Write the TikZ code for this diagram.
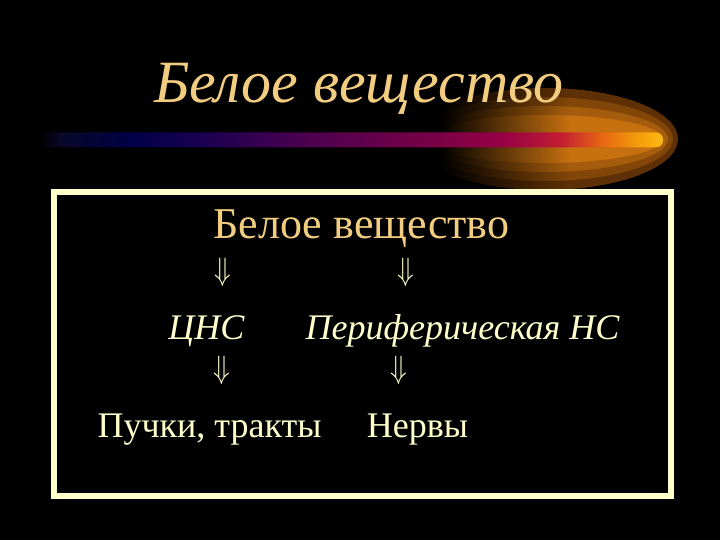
\documentclass[tikz,border=0pt]{standalone}
\usepackage{fontspec}
\setmainfont{Liberation Serif}
\definecolor{cream}{RGB}{255,255,204}
\definecolor{gold}{RGB}{242,205,128}
\definecolor{glowa}{RGB}{95,48,5}
\definecolor{glowb}{RGB}{130,70,8}
\definecolor{glowc}{RGB}{165,92,12}
\definecolor{glowd}{RGB}{198,112,16}
\definecolor{bara}{RGB}{8,8,40}
\definecolor{barb}{RGB}{0,0,70}
\definecolor{barc}{RGB}{25,0,80}
\definecolor{bard}{RGB}{70,0,80}
\definecolor{bare}{RGB}{120,0,70}
\definecolor{barf}{RGB}{150,0,70}
\definecolor{barg}{RGB}{195,30,50}
\definecolor{barh}{RGB}{230,100,20}
\definecolor{bari}{RGB}{245,160,10}
\definecolor{barj}{RGB}{250,185,20}
\pgfdeclarehorizontalshading{barshade}{100bp}{color(0bp)=(black); color(25bp)=(black);
  color(26.6bp)=(bara); color(32.2bp)=(barb); color(37.9bp)=(barc); color(45.1bp)=(bard);
  color(56.4bp)=(bare); color(62bp)=(barf); color(66.8bp)=(barg); color(70bp)=(barh);
  color(73.2bp)=(bari); color(75bp)=(barj); color(100bp)=(barj)}
\begin{document}
\begin{tikzpicture}[x=1pt,y=-1pt,
    txt/.style={font=\fontsize{36}{36}\selectfont, text=cream, inner sep=0pt, anchor=base},
    arr/.style={font=\Huge, text=cream, inner sep=0pt, xscale=1.1, yscale=1.3}]
  \fill[black] (0,0) rectangle (720,540);
  % glow behind the bar
  \foreach \rx/\ry/\c in {133/51/glowa, 128/42/glowb, 123/33/glowc, 118/24/glowd}{
    \begin{scope}
      \clip (545,139) ellipse [x radius=\rx pt, y radius=\ry pt];
      \shade[left color=black, right color=\c] (440,80) rectangle (570,200);
      \fill[\c] (570,80) rectangle (690,200);
    \end{scope}}
  \shade[shading=barshade, rounded corners=7pt] (40,132.5) rectangle (663,147.5);
  \draw[cream, line width=6pt] (54,192) rectangle (671,496);
  \node[txt, text=gold, font=\fontsize{60}{60}\selectfont\itshape] (title) at (359,103) {Белое вещество};
  \node[txt, text=gold, font=\fontsize{44}{44}\selectfont] (head) at (361.5,238) {Белое вещество};
  \node[txt, font=\fontsize{36}{36}\selectfont\itshape] (cns) at (206.5,339) {ЦНС};
  \node[txt, font=\fontsize{36}{36}\selectfont\itshape] (pns) at (462.5,339) {Периферическая НС};
  \node[txt] (tracts) at (209.5,437) {Пучки, тракты};
  \node[txt] (nerves) at (417.5,437) {Нервы};
  \node[arr] (arr1) at (223,272) {$\Downarrow$};
  \node[arr] (arr2) at (406,272) {$\Downarrow$};
  \node[arr] (arr3) at (222,370) {$\Downarrow$};
  \node[arr] (arr4) at (399,370) {$\Downarrow$};
\end{tikzpicture}
\end{document}
